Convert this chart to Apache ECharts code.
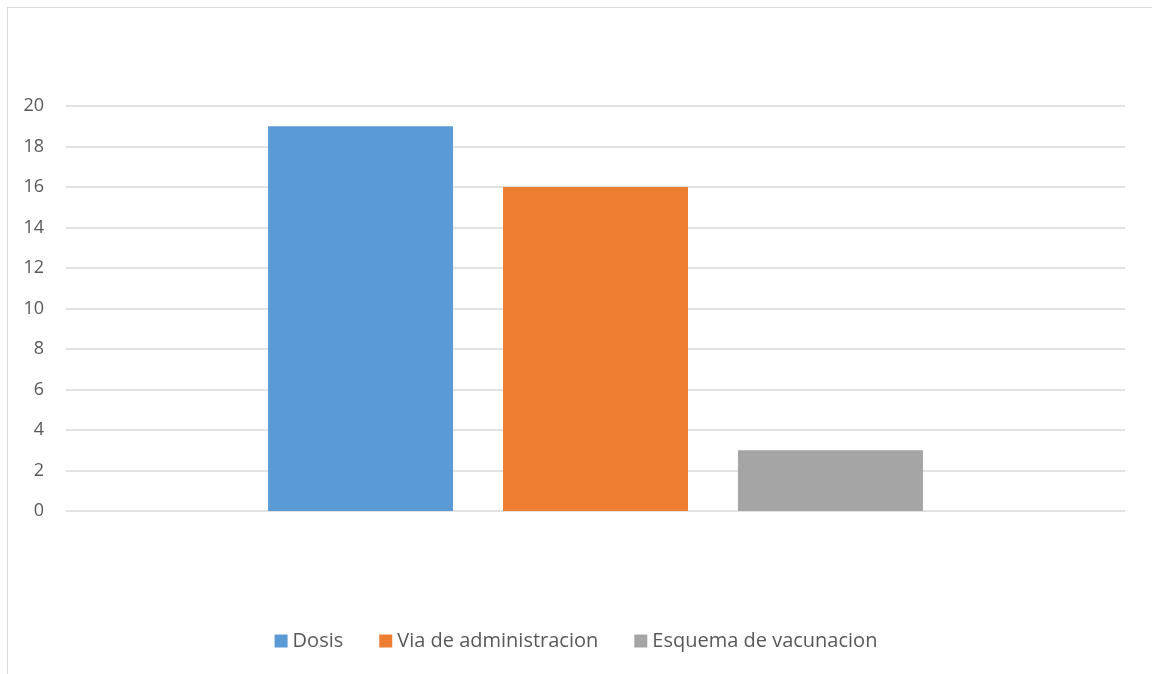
<!DOCTYPE html>
<html>
<head>
<meta charset="utf-8">
<script src="https://cdn.jsdelivr.net/npm/echarts@6/dist/echarts.min.js"></script>
<style>
  html, body { margin: 0; padding: 0; background: #fff; }
  #frame {
    position: absolute; left: 7px; top: 7px; width: 1145px; height: 667px;
    border-top: 1px solid #d9d9d9; border-left: 1px solid #d9d9d9;
  }
  #chart { position: absolute; left: 0; top: 0; width: 1152px; height: 674px; }
</style>
</head>
<body>
<div id="frame"></div>
<div id="chart"></div>
<script>
// categoría única, tres series
const categories = ['']
const seriesNames = ['Dosis', 'Via de administracion', 'Esquema de vacunacion']
const seriesValues = [[19], [16], [3]]
const seriesColors = ['#5b9bd5', '#ed7d31', '#a5a5a5']

const myChart = echarts.init(document.getElementById('chart'))
const font = '"Open Sans", "Liberation Sans", sans-serif'

myChart.setOption({
  animation: false,
  color: seriesColors,
  grid: { left: 66, right: 27, top: 106, bottom: 163 },
  legend: {
    bottom: 18,
    left: 'center',
    itemWidth: 13,
    itemHeight: 13,
    itemGap: 36,
    icon: 'rect',
    textStyle: { fontFamily: font, fontSize: 20, color: '#595959' },
    data: seriesNames
  },
  xAxis: {
    type: 'category',
    data: categories,
    axisLine: { show: false },
    axisTick: { show: false },
    axisLabel: { show: false }
  },
  yAxis: {
    type: 'value',
    min: 0,
    max: 20,
    interval: 2,
    axisLine: { show: false },
    axisTick: { show: false },
    axisLabel: { margin: 22, fontFamily: font, fontSize: 18, color: '#595959' },
    splitLine: { lineStyle: { color: '#d9d9d9', width: 1.5 } }
  },
  series: seriesNames.map((name, i) => ({
    name: name,
    type: 'bar',
    data: seriesValues[i],
    barWidth: 185,
    barGap: '27%'
  }))
})
</script>
</body>
</html>
